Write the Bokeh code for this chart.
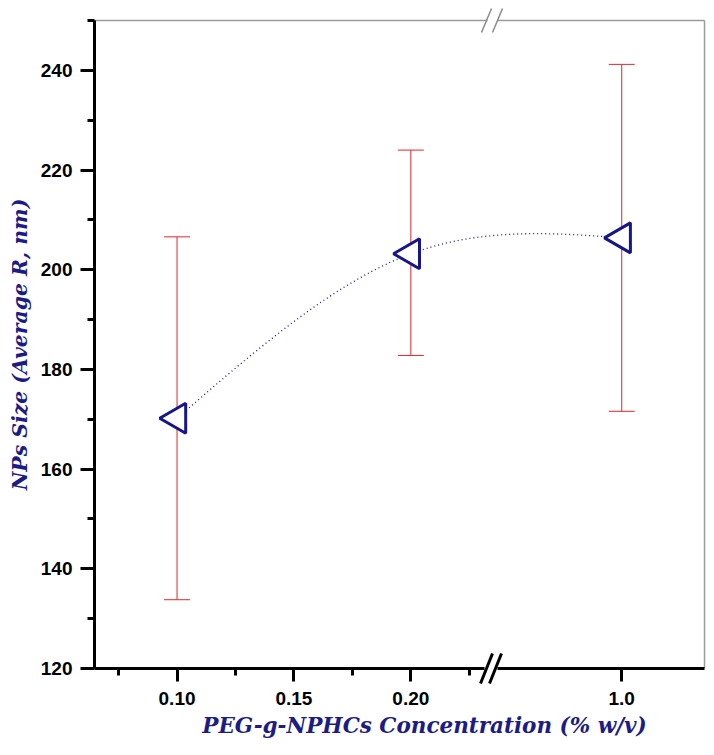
import numpy as np
from bokeh.plotting import figure
from bokeh.models import ColumnDataSource, FixedTicker, Whisker, TeeHead, Label
from bokeh.embed import file_html
from bokeh.resources import INLINE

# ---------------- data ----------------
concentration = [0.10, 0.20, 1.0]          # % w/v
size_mean = [170.2, 203.2, 206.4]           # nm
size_upper = [206.6, 224.0, 241.2]
size_lower = [133.8, 182.8, 171.6]

x_major_ticks = [0.10, 0.15, 0.20, 1.0]
x_tick_labels = ["0.10", "0.15", "0.20", "1.0"]
x_minor_ticks = [0.075, 0.125, 0.175, 0.225]
y_major_ticks = [120, 140, 160, 180, 200, 220, 240]
y_minor_ticks = [130, 150, 170, 190, 210, 230, 250]

X_TITLE = "PEG-g-NPHCs Concentration (% w/v)"
Y_TITLE = "NPs Size (Average R, nm)"

# ---------------- broken-axis layout ----------------
X_START, X_END = 0.0647, 0.3256      # visible axis extent (axis positions)
Y_START, Y_END = 120, 250
BREAK_X = 0.2338                     # where the x axis is broken
SEG2_POS = 0.2902                    # axis position of value 1.0 (right segment)

FIG_W, FIG_H = 706, 739
AX_L, AX_R, AX_T, AX_B = 94, 704, 20, 668   # pixel box of the axes
SX = (AX_R - AX_L) / (X_END - X_START)
SY = (AX_B - AX_T) / (Y_END - Y_START)
X_LO = X_START - AX_L / SX
X_HI = X_END + (FIG_W - AX_R) / SX
Y_HI = Y_END + AX_T / SY
Y_LO = Y_START - (FIG_H - AX_B) / SY


def X(px):
    return X_LO + px / SX


def Y(py):
    return Y_HI - py / SY


def xpos(v):
    """Map a concentration onto the broken axis."""
    return v if v < BREAK_X else SEG2_POS + (v - 1.0) * 0.1


xs = [xpos(v) for v in concentration]

NAVY = "#161688"
RED = "#e0262b"
LABEL_NAVY = "#1c1c84"
GREY = "#9a9a9a"

p = figure(frame_width=FIG_W, frame_height=FIG_H,
           x_range=(X_LO, X_HI), y_range=(Y_LO, Y_HI),
           output_backend="svg", toolbar_location=None,
           min_border=0)
p.grid.visible = False
p.outline_line_color = None
p.background_fill_color = "white"
p.border_fill_color = "white"

# axes (fixed at the data box)
p.xaxis.fixed_location = Y_START
p.yaxis.fixed_location = X_START
p.xaxis.bounds = (X_START, X_END)
p.yaxis.bounds = (Y_START, Y_END)
p.xaxis.ticker = FixedTicker(ticks=[xpos(v) for v in x_major_ticks],
                             minor_ticks=[xpos(v) for v in x_minor_ticks])
p.xaxis.major_label_overrides = {xpos(v): s for v, s in zip(x_major_ticks, x_tick_labels)}
p.yaxis.ticker = FixedTicker(ticks=y_major_ticks, minor_ticks=y_minor_ticks)

for ax in (p.xaxis[0], p.yaxis[0]):
    ax.axis_line_width = 3
    ax.axis_line_color = "black"
    ax.major_tick_line_width = 3
    ax.minor_tick_line_width = 3
    ax.major_tick_in = 0
    ax.minor_tick_in = 0
    ax.major_label_text_font = "Liberation Sans"
    ax.major_label_text_font_style = "bold"
    ax.major_label_text_font_size = "19px"
    ax.major_label_text_color = "black"

p.xaxis.major_tick_out = 13
p.xaxis.minor_tick_out = 7
p.xaxis.major_label_standoff = 10
p.yaxis.major_tick_out = 14
p.yaxis.minor_tick_out = 7
p.yaxis.major_label_standoff = 8
p.yaxis.axis_label_standoff = 6
p.yaxis.axis_label = Y_TITLE
p.yaxis.axis_label_text_font = "DejaVu Serif"
p.yaxis.axis_label_text_font_style = "bold italic"
p.yaxis.axis_label_text_font_size = "20.4px"
p.yaxis.axis_label_text_color = LABEL_NAVY

# x-axis title (offset to the right as in the original)
p.add_layout(Label(x=X(424), y=Y(725), text=X_TITLE, text_align="center",
                   text_baseline="middle", text_font="DejaVu Serif",
                   text_font_style="bold italic", text_font_size="21.5px",
                   text_color=LABEL_NAVY))

# top and right frame lines (grey), top one broken
p.segment(x0=[X_START, X(497), X_END], y0=[Y_END, Y_END, Y_START],
          x1=[X(487), X_END, X_END], y1=[Y_END, Y_END, Y_END],
          line_color=GREY, line_width=1.5)

# error bars
src = ColumnDataSource(dict(x=xs, y=size_mean, upper=size_upper, lower=size_lower))
wh = Whisker(base="x", upper="upper", lower="lower", source=src,
             line_color=RED, line_width=1,
             upper_head=TeeHead(size=26, line_color=RED, line_width=1),
             lower_head=TeeHead(size=26, line_color=RED, line_width=1))
p.add_layout(wh)

# smoothing curve: natural cubic spline through the points
xa = np.array(xs)
ya = np.array(size_mean)
h = np.diff(xa)
sl = np.diff(ya) / h
M1 = 6 * (sl[1] - sl[0]) / (2 * (h[0] + h[1]))
M = np.array([0.0, M1, 0.0])
cx, cy = [], []
for i in range(2):
    t = np.linspace(xa[i], xa[i + 1], 80)
    a = (xa[i + 1] - t) / h[i]
    b = (t - xa[i]) / h[i]
    yy = a * ya[i] + b * ya[i + 1] + ((a ** 3 - a) * M[i] + (b ** 3 - b) * M[i + 1]) * h[i] ** 2 / 6
    cx.extend(t)
    cy.extend(yy)
p.line(cx, cy, line_color=NAVY, line_width=1.3, line_dash="1 3")

# markers: left-pointing open triangles
p.scatter(x="x", y="y", source=src, marker="triangle", angle=np.pi / 2,
          size=30, line_color=NAVY, line_width=3, fill_color="white")

# axis break marks (drawn above the axis line)
p.segment(x0=[X(484)], y0=[Y_START], x1=[X(497)], y1=[Y_START],
          line_color="white", line_width=7, level="overlay")
p.segment(x0=[X(480), X(489)], y0=[Y(683), Y(683)],
          x1=[X(492), X(501)], y1=[Y(653), Y(653)],
          line_color="black", line_width=3, level="overlay")
p.segment(x0=[X(481), X(492)], y0=[Y(32), Y(32)],
          x1=[X(491), X(502)], y1=[Y(8), Y(8)],
          line_color="#8a8a8a", line_width=1.5, level="overlay")

open("out.html", "w").write(file_html(p, INLINE))
